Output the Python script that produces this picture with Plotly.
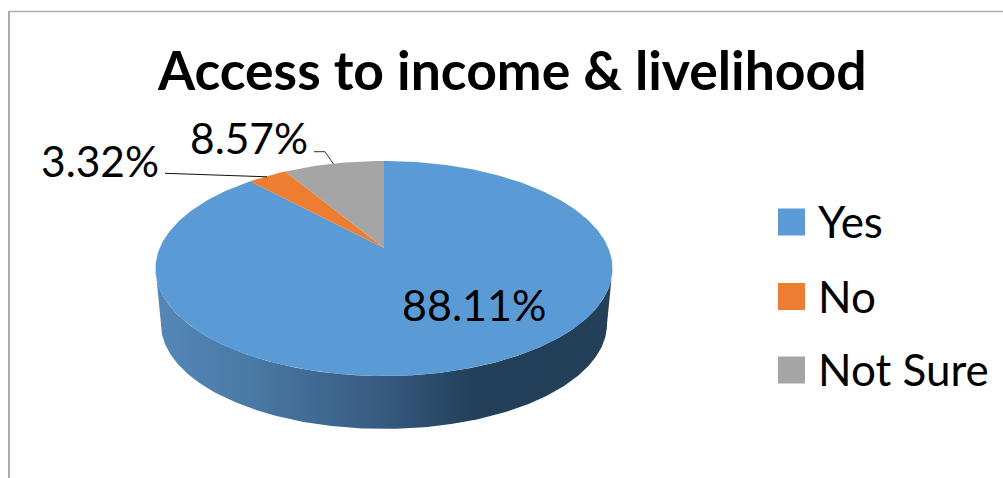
import numpy as np
import plotly.graph_objects as go

# Chart content
title = "Access to income &amp; livelihood"
categories = ["Yes", "No", "Not Sure"]
shares = [88.11, 3.32, 8.57]
colors = ["#5b9bd5", "#ed7d31", "#a5a5a5"]

FONT = "Lato"
W, H = 1003, 478

# Perspective disc: apex of the pie, half axes and foreshortening
CX, CY = 384.0, 248.0
A, B, K = 224.3, 103.6, 0.1907
# Lower rim of the disc: scale and apex height
RIM_SCALE, RIM_CY = 0.976, 304.0


def project(turn, scale=1.0, cy=CY):
    """Map clockwise angles (radians from 12 o'clock) onto the tilted disc."""
    u, v = np.sin(turn), np.cos(turn)
    d = 1 + K * v
    return CX + scale * A * u / d, cy - scale * B * v / d


fig = go.Figure()

# Side wall of the disc, from the right extreme round the front to the left one
t0 = np.arccos(-K)
front = np.linspace(t0, 2 * np.pi - t0, 241)
xt, yt = project(front)
xb, yb = project(front[::-1], RIM_SCALE, RIM_CY)
fig.add_trace(go.Scatter(
    x=np.r_[xt, xb], y=np.r_[yt, yb], mode="lines", fill="toself",
    line=dict(width=0), hoverinfo="skip", showlegend=False,
    fillgradient=dict(
        type="horizontal", start=156, stop=612,
        colorscale=[[0, "#5487b8"], [0.2, "#4a7aa6"], [0.5, "#36597f"],
                    [0.7, "#233f59"], [1, "#243f58"]],
    ),
))

# Top face slices, drawn clockwise from 12 o'clock
edges = np.r_[0, np.cumsum(shares)] / sum(shares) * 2 * np.pi
for name, color, start, end in zip(categories, colors, edges[:-1], edges[1:]):
    arc = np.linspace(start, end, max(int((end - start) * 60), 8))
    xs, ys = project(arc)
    fig.add_trace(go.Scatter(
        x=np.r_[CX, xs, CX], y=np.r_[CY, ys, CY], mode="lines", fill="toself",
        fillcolor=color, line=dict(width=0, color=color), name=name,
        showlegend=False, hoverinfo="name",
    ))

# Leader lines from the outside labels to their slices
fig.add_trace(go.Scatter(x=[165, 267], y=[173.3, 176.8], mode="lines",
                         line=dict(color="#111111", width=1),
                         hoverinfo="skip", showlegend=False))
fig.add_trace(go.Scatter(x=[314, 325, 333.5], y=[151.7, 151.7, 164], mode="lines",
                         line=dict(color="#333333", width=1),
                         hoverinfo="skip", showlegend=False))

# Key at the right of the disc
key_y = [222, 296.5, 370]
fig.add_trace(go.Scatter(
    x=[791.5] * 3, y=key_y, mode="markers",
    marker=dict(symbol="square", size=27, color=colors, line=dict(width=0)),
    hoverinfo="skip", showlegend=False,
))

annotations = [
    dict(x=511.5, y=68.5, text=f"<b>{title}</b>", font=dict(size=53.5)),
    dict(x=100, y=160, text=f"{shares[1]:.2f}%", font=dict(size=42.5)),
    dict(x=248.5, y=137, text=f"{shares[2]:.2f}%", font=dict(size=42.5)),
    dict(x=474, y=304.5, text=f"{shares[0]:.2f}%", font=dict(size=43)),
]
for name, y in zip(categories, key_y):
    annotations.append(dict(x=816, y=y - 1, text=name, xanchor="left", font=dict(size=44)))
for a in annotations:
    a.update(xref="x", yref="y", showarrow=False)
    a.setdefault("xanchor", "center")
    a["yanchor"] = "middle"
    a["font"].update(family=FONT, color="#000000")

# Chart frame: top and left edges only
frame = [
    dict(type="line", x0=9, x1=W, y0=11.5, y1=11.5, line=dict(color="#ababab", width=1.5)),
    dict(type="line", x0=9, x1=9, y0=11, y1=H, line=dict(color="#ababab", width=2)),
]

fig.update_layout(
    width=W, height=H, margin=dict(l=0, r=0, t=0, b=0),
    paper_bgcolor="white", plot_bgcolor="white",
    xaxis=dict(range=[0, W], visible=False, fixedrange=True),
    yaxis=dict(range=[H, 0], visible=False, fixedrange=True),
    annotations=annotations, shapes=frame, showlegend=False,
)
fig.write_html("out.html", config=dict(displayModeBar=False))
